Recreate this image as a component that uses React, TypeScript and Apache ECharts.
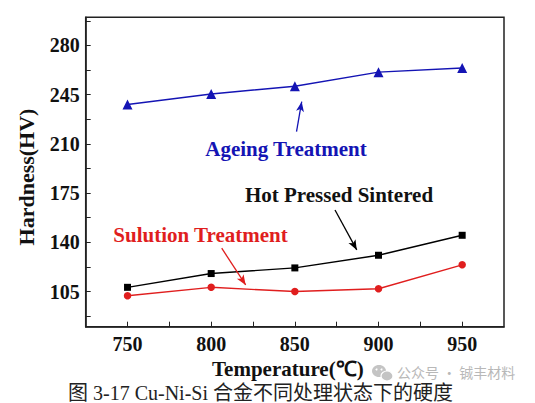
import React, { useEffect, useRef } from "react";
import * as echarts from "echarts";

const temperatures = [750, 800, 850, 900, 950];
const ageing = [238, 245.5, 251, 261, 264];
const hotPressed = [108, 117.8, 121.8, 130.8, 145];
const solution = [102, 108, 105, 107, 124];

const xLabels = [750, 800, 850, 900, 950];
const xTicks = [750, 775, 800, 825, 850, 875, 900, 925, 950];
const yLabels = [105, 140, 175, 210, 245, 280];
const yTicks = [87.5, 105, 122.5, 140, 157.5, 175, 192.5, 210, 227.5, 245, 262.5, 280, 297.5];

const ageingArrow = [[851, 218.7], [854.1, 240]];
const hotArrow = [[874, 163], [887, 134.6]];
const solutionArrow = [[806.3, 135.8], [820.6, 109.7]];

const BLUE = "#1414b4";
const RED = "#e01e1e";
const BLACK = "#000000";
const SERIF = "'Liberation Serif', 'Times New Roman', serif";

function arrowLine(pts: number[][], color: string) {
  return {
    silent: true,
    symbol: ["none", "arrow"],
    symbolSize: [6, 10],
    label: { show: false },
    lineStyle: { color, width: 1.3, type: "solid" },
    data: [[{ coord: pts[0] }, { coord: pts[1] }]],
  };
}

export default function App() {
  const ref = useRef<HTMLDivElement>(null);
  useEffect(() => {
    if (!ref.current) return;
    const chart = echarts.init(ref.current, null, { renderer: "svg" });
    const series: any[] = [
      {
        name: "Ageing Treatment",
        type: "line",
        data: temperatures.map((t, i) => [t, ageing[i]]),
        symbol: "triangle",
        symbolSize: 10,
        itemStyle: { color: BLUE },
        lineStyle: { color: BLUE, width: 1.4 },
        markLine: arrowLine(ageingArrow, BLUE),
      },
      {
        name: "Hot Pressed Sintered",
        type: "line",
        data: temperatures.map((t, i) => [t, hotPressed[i]]),
        symbol: "rect",
        symbolSize: 7,
        itemStyle: { color: BLACK },
        lineStyle: { color: BLACK, width: 1.4 },
        markLine: arrowLine(hotArrow, BLACK),
      },
      {
        name: "Sulution Treatment",
        type: "line",
        data: temperatures.map((t, i) => [t, solution[i]]),
        symbol: "circle",
        symbolSize: 7.5,
        itemStyle: { color: RED },
        lineStyle: { color: RED, width: 1.4 },
        markLine: arrowLine(solutionArrow, RED),
      },
    ];
    chart.setOption({
      animation: false,
      backgroundColor: "#ffffff",
      grid: {
        left: 85.7,
        right: 31,
        top: 17.3,
        bottom: 76.3,
        show: true,
        borderColor: "#222",
        borderWidth: 1.5,
        backgroundColor: "transparent",
      },
      xAxis: {
        type: "value",
        min: 725,
        max: 975,
        interval: 25,
        name: "Temperature(℃)",
        nameLocation: "middle",
        nameGap: 26,
        nameTextStyle: {
          fontFamily: SERIF,
          fontWeight: "bold",
          fontSize: 21,
          color: "#111",
          padding: [0, 14, 0, 0],
          verticalAlign: "top",
        },
        axisLine: { show: true, lineStyle: { color: "#222", width: 1.5 } },
        axisTick: { show: true, inside: true, length: 5, customValues: xTicks, lineStyle: { color: "#222", width: 1 } },
        axisLabel: {
          customValues: xLabels,
          fontFamily: SERIF,
          fontWeight: "bold",
          fontSize: 20,
          color: "#111",
          margin: 7,
        },
        splitLine: { show: false },
      },
      yAxis: {
        type: "value",
        min: 80,
        max: 300,
        name: "Hardness(HV)",
        nameLocation: "middle",
        nameGap: 48,
        nameRotate: 90,
        nameTextStyle: {
          fontFamily: SERIF,
          fontWeight: "bold",
          fontSize: 22,
          color: "#111",
          padding: [0, 10, 0, 0],
        },
        axisLine: { show: true, lineStyle: { color: "#222", width: 1.5 } },
        axisTick: { show: true, inside: true, length: 5, customValues: yTicks, lineStyle: { color: "#222", width: 1 } },
        axisLabel: {
          customValues: yLabels,
          fontFamily: SERIF,
          fontWeight: "bold",
          fontSize: 20,
          color: "#111",
          margin: 6,
        },
        splitLine: { show: false },
      },
      series,
      graphic: [
        {
          type: "text",
          x: 286,
          y: 149,
          style: { text: "Ageing Treatment", fill: BLUE, font: `bold 21px ${SERIF}`, align: "center", verticalAlign: "middle" },
        },
        {
          type: "text",
          x: 339,
          y: 194.6,
          style: { text: "Hot Pressed Sintered", fill: "#111", font: `bold 21px ${SERIF}`, align: "center", verticalAlign: "middle" },
        },
        {
          type: "text",
          x: 200.5,
          y: 234.6,
          style: { text: "Sulution Treatment", fill: RED, font: `bold 21px ${SERIF}`, align: "center", verticalAlign: "middle" },
        },
        {
          type: "text",
          x: 68,
          y: 392.5,
          style: {
            text: "图 3-17 Cu-Ni-Si 合金不同处理状态下的硬度",
            fill: "#222",
            font: `20px 'Liberation Serif', 'Noto Sans CJK SC', serif`,
            align: "left",
            verticalAlign: "middle",
          },
        },
        {
          type: "group",
          children: [
            { type: "ellipse", shape: { cx: 379, cy: 371, rx: 7, ry: 6 }, style: { fill: "#c4c4c4" } },
            { type: "ellipse", shape: { cx: 387, cy: 376, rx: 6, ry: 5 }, style: { fill: "#c4c4c4", stroke: "#fff", lineWidth: 1.2 } },
            { type: "circle", shape: { cx: 376.5, cy: 369.5, r: 1 }, style: { fill: "#fff" } },
            { type: "circle", shape: { cx: 381.5, cy: 369.5, r: 1 }, style: { fill: "#fff" } },
          ],
        },
        {
          type: "text",
          x: 397,
          y: 372,
          style: {
            text: "公众号 · 铖丰材料",
            fill: "#b8b8b8",
            font: `14px 'Noto Sans CJK SC', sans-serif`,
            align: "left",
            verticalAlign: "middle",
          },
        },
      ],
    });
    return () => chart.dispose();
  }, []);
  return <div ref={ref} style={{ position: "fixed", left: 0, top: 0, width: 535, height: 403 }} />;
}
